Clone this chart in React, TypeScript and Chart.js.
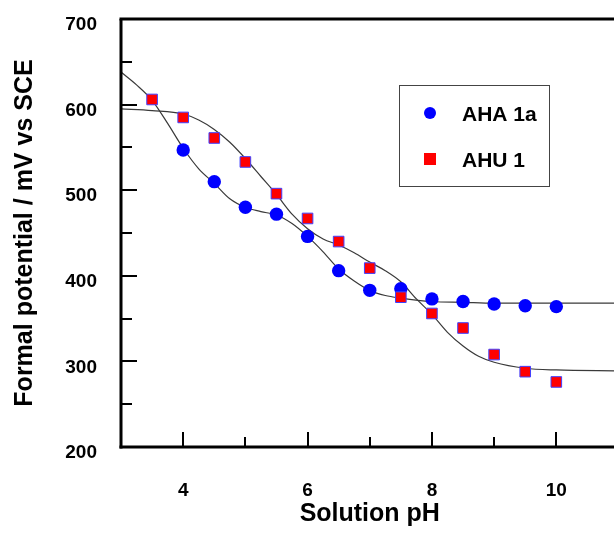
import { useEffect, useRef } from 'react';
import { Chart, registerables } from 'chart.js';

Chart.register(...registerables);

// ---- data ----
const ahaPH = [4, 4.5, 5, 5.5, 6, 6.5, 7, 7.5, 8, 8.5, 9, 9.5, 10];
const ahaE = [547, 510, 480, 472, 446, 406, 383, 385, 373, 370, 367, 365, 364];

const ahuPH = [3.5, 4, 4.5, 5, 5.5, 6, 6.5, 7, 7.5, 8, 8.5, 9, 9.5, 10];
const ahuE = [606, 585, 561, 533, 496, 467, 440, 409, 375, 356, 339, 308, 288, 276];

const fitA_PH = [3, 3.25, 3.5, 3.75, 4, 4.25, 4.5, 4.75, 5, 5.25, 5.5, 5.75, 6, 6.25, 6.5, 6.75, 7, 7.25, 7.5, 8, 8.5, 9, 10, 11];
const fitA_E = [638, 623, 605, 578, 549, 525, 508, 490, 480, 475, 471, 461, 446, 428, 408, 394, 383, 377, 374, 370, 369, 368, 368, 368];

const fitB_PH = [3, 3.5, 4, 4.25, 4.5, 4.75, 5, 5.25, 5.5, 5.75, 6, 6.25, 6.5, 6.75, 7, 7.25, 7.5, 7.75, 8, 8.25, 8.5, 8.75, 9, 9.5, 10, 11];
const fitB_E = [595, 593, 589, 582, 571, 556, 537, 516, 495, 472, 455, 443, 436, 427, 416, 406, 393, 373, 355, 334, 318, 306, 299, 292, 290, 289];

const xLabelValues = [4, 6, 8, 10];
const xMajorTicks = [4, 6, 8, 10];
const xMinorTicks = [5, 7, 9];
const yMajorTicks = [300, 400, 500, 600];
const yMinorTicks = [250, 350, 450, 550, 650];

const seriesNames = ['AHA 1a', 'AHU 1'];

const FONT = "'Liberation Sans', Arial, Helvetica, sans-serif";

const toXY = (xs: number[], ys: number[]) => xs.map((x, i) => ({ x, y: ys[i] }));

const framePlugin = {
  id: 'frame',
  afterDraw(chart: any) {
    const { ctx, chartArea, scales } = chart;
    const xs = scales.x;
    const ys = scales.y;
    ctx.save();
    ctx.strokeStyle = '#000';
    ctx.lineCap = 'butt';
    // ticks
    ctx.lineWidth = 2;
    const bottom = chartArea.bottom;
    const left = chartArea.left;
    xMajorTicks.forEach((v) => {
      const px = Math.round(xs.getPixelForValue(v));
      ctx.beginPath();
      ctx.moveTo(px, bottom);
      ctx.lineTo(px, bottom - 15);
      ctx.stroke();
    });
    xMinorTicks.forEach((v) => {
      const px = Math.round(xs.getPixelForValue(v));
      ctx.beginPath();
      ctx.moveTo(px, bottom);
      ctx.lineTo(px, bottom - 10);
      ctx.stroke();
    });
    yMajorTicks.forEach((v) => {
      const py = Math.round(ys.getPixelForValue(v));
      ctx.beginPath();
      ctx.moveTo(left, py);
      ctx.lineTo(left + 16, py);
      ctx.stroke();
    });
    yMinorTicks.forEach((v) => {
      const py = Math.round(ys.getPixelForValue(v));
      ctx.beginPath();
      ctx.moveTo(left, py);
      ctx.lineTo(left + 11, py);
      ctx.stroke();
    });
    // axis lines
    ctx.lineWidth = 3;
    ctx.beginPath();
    ctx.moveTo(left, chartArea.top);
    ctx.lineTo(left, bottom + 1.5);
    ctx.stroke();
    ctx.beginPath();
    ctx.moveTo(left - 1.5, bottom);
    ctx.lineTo(chartArea.right, bottom);
    ctx.stroke();
    ctx.beginPath();
    ctx.moveTo(left - 1.5, chartArea.top);
    ctx.lineTo(chartArea.right, chartArea.top);
    ctx.stroke();

    // legend box
    ctx.lineWidth = 1;
    ctx.strokeStyle = '#444';
    ctx.strokeRect(399.5, 85.5, 150, 101);
    ctx.fillStyle = '#0000ff';
    ctx.beginPath();
    ctx.arc(430, 113, 6, 0, Math.PI * 2);
    ctx.fill();
    ctx.fillStyle = '#ff0000';
    ctx.fillRect(424, 153, 12, 12);
    ctx.fillStyle = '#000';
    ctx.font = `bold 21px ${FONT}`;
    ctx.textAlign = 'left';
    ctx.textBaseline = 'middle';
    ctx.fillText(seriesNames[0], 462, 115);
    ctx.fillText(seriesNames[1], 462, 161);
    ctx.restore();
  },
};

export default function App() {
  const canvasRef = useRef<HTMLCanvasElement | null>(null);

  useEffect(() => {
    const canvas = canvasRef.current;
    if (!canvas) return;
    const chart = new Chart(canvas, {
      type: 'scatter',
      data: {
        datasets: [
          {
            label: seriesNames[1],
            data: toXY(ahuPH, ahuE),
            pointStyle: 'rect',
            pointRadius: 7.5,
            backgroundColor: '#ff0000',
            borderColor: '#4040ff',
            borderWidth: 1,
            showLine: false,
            order: 1,
          },
          {
            label: seriesNames[0],
            data: toXY(ahaPH, ahaE),
            pointStyle: 'circle',
            pointRadius: 6.7,
            backgroundColor: '#0000ff',
            borderColor: '#0000ff',
            borderWidth: 0,
            showLine: false,
            order: 2,
          },
          {
            label: 'fit A',
            data: toXY(fitA_PH, fitA_E),
            showLine: true,
            pointRadius: 0,
            borderColor: '#3a3a3a',
            borderWidth: 1.2,
            cubicInterpolationMode: 'monotone',
            order: 3,
          },
          {
            label: 'fit B',
            data: toXY(fitB_PH, fitB_E),
            showLine: true,
            pointRadius: 0,
            borderColor: '#3a3a3a',
            borderWidth: 1.2,
            cubicInterpolationMode: 'monotone',
            order: 4,
          },
        ],
      },
      options: {
        responsive: false,
        animation: false,
        events: [],
        layout: { padding: { top: 19, left: 0, right: 0, bottom: 0 } },
        plugins: {
          legend: { display: false },
          tooltip: { enabled: false },
        },
        scales: {
          x: {
            type: 'linear',
            min: 3,
            max: 11,
            grid: { display: false, drawTicks: false },
            border: { display: false },
            ticks: {
              stepSize: 1,
              autoSkip: false,
              maxRotation: 0,
              padding: 32,
              color: '#000',
              font: { family: FONT, size: 19, weight: 'bold' },
              callback: (v: any) => (xLabelValues.includes(Number(v)) ? String(v) : ''),
            },
            title: {
              display: true,
              text: 'Solution pH',
              color: '#000',
              font: { family: FONT, size: 25, weight: 'bold' },
              padding: { top: 0, bottom: 4 },
            },
            afterFit: (s: any) => {
              s.height = 86;
              s.paddingLeft = 0;
              s.paddingRight = 0;
            },
          },
          y: {
            type: 'linear',
            min: 200,
            max: 700,
            grid: { display: false, drawTicks: false },
            border: { display: false },
            ticks: {
              stepSize: 100,
              padding: 24,
              labelOffset: 6,
              color: '#000',
              font: { family: FONT, size: 19, weight: 'bold' },
            },
            title: {
              display: true,
              text: 'Formal potential / mV vs SCE',
              color: '#000',
              font: { family: FONT, size: 25, weight: 'bold' },
              padding: { top: 10, bottom: 0 },
            },
            afterFit: (s: any) => {
              s.width = 121;
              s.paddingTop = 0;
              s.paddingBottom = 0;
            },
          },
        },
      },
      plugins: [framePlugin],
    });
    return () => chart.destroy();
  }, []);

  return (
    <div
      style={{
        position: 'absolute',
        left: 0,
        top: 0,
        width: 614,
        height: 533,
        overflow: 'hidden',
        background: '#fff',
      }}
    >
      <canvas ref={canvasRef} width={627} height={533} style={{ display: 'block', width: 627, height: 533 }} />
    </div>
  );
}
